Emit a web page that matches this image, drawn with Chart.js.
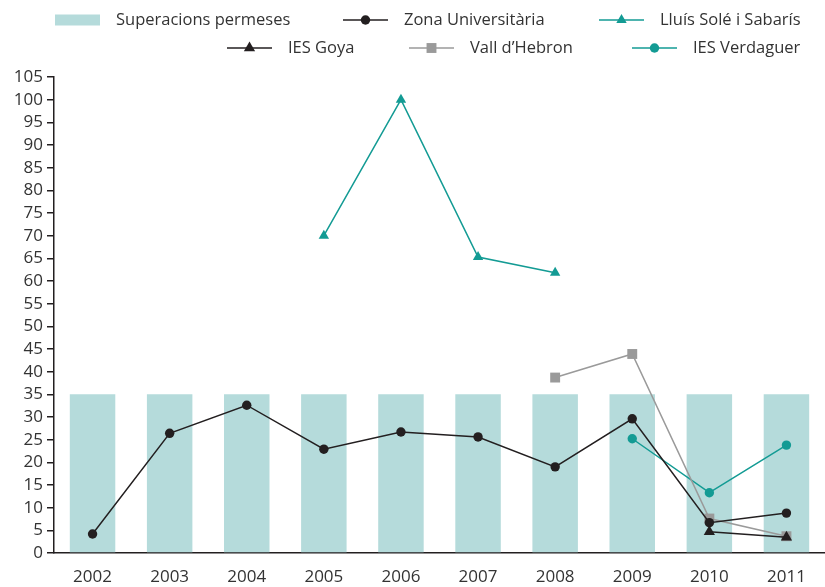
<!DOCTYPE html>
<html>
<head>
<meta charset="utf-8">
<script src="https://cdn.jsdelivr.net/npm/chart.js@4.4.0/dist/chart.umd.min.js"></script>
<style>
  html, body { margin: 0; padding: 0; background: #fff; overflow: hidden; }
  #wrap { width: 825px; height: 587px; overflow: hidden; }
</style>
</head>
<body>
<div id="wrap"><canvas id="myChart" width="832" height="587"></canvas></div>
<script>
var years = ["2002", "2003", "2004", "2005", "2006", "2007", "2008", "2009", "2010", "2011"];
var superacionsPermeses = [35, 35, 35, 35, 35, 35, 35, 35, 35, 35];
var zonaUniversitaria = [4.2, 26.4, 32.6, 22.9, 26.7, 25.6, 19.0, 29.6, 6.7, 8.8];
var lluisSole = [null, null, null, 70, 100, 65.3, 61.8, null, null, null];
var iesGoya = [null, null, null, null, null, null, null, null, 4.7, 3.5];
var vallHebron = [null, null, null, null, null, null, 38.7, 43.9, 7.6, 3.7];
var iesVerdaguer = [null, null, null, null, null, null, null, 25.2, 13.3, 23.8];
var yMin = 0, yMax = 105, yStep = 5;

var FONT = "'Open Sans', 'Noto Sans', sans-serif";
var TEXT = "#333333";
var TEAL = "#139b94";
var BLACK = "#231f20";
var GREY = "#9a9a9a";
var BAR = "#b5dbdb";

// where each legend entry sits (symbol left edge, row centre)
var legendSlots = [
  { x: 55, y: 20 }, { x: 343, y: 20 }, { x: 599, y: 20 },
  { x: 227, y: 48 }, { x: 409, y: 48 }, { x: 632, y: 48 }
];

function marker(ctx, style, r, x, y) {
  ctx.beginPath();
  if (style === "circle") {
    ctx.arc(x, y, r, 0, Math.PI * 2);
  } else if (style === "triangle") {
    ctx.moveTo(x, y - r);
    ctx.lineTo(x + r * Math.sin(2 * Math.PI / 3), y - r * Math.cos(2 * Math.PI / 3));
    ctx.lineTo(x + r * Math.sin(4 * Math.PI / 3), y - r * Math.cos(4 * Math.PI / 3));
  } else if (style === "rect") {
    var s = r * Math.SQRT1_2;
    ctx.rect(x - s, y - s, 2 * s, 2 * s);
  }
  ctx.closePath();
  ctx.fill();
}

var legendPlugin = {
  id: "placedLegend",
  afterDraw: function(chart) {
    var ctx = chart.ctx;
    ctx.save();
    ctx.font = "16.5px " + FONT;
    ctx.textBaseline = "middle";
    chart.data.datasets.forEach(function(ds, i) {
      var slot = legendSlots[i];
      if (ds.type === "bar") {
        ctx.fillStyle = ds.backgroundColor;
        ctx.fillRect(slot.x, slot.y - 5.5, 45, 11);
      } else {
        ctx.strokeStyle = ds.borderColor;
        ctx.lineWidth = ds.borderWidth;
        ctx.beginPath();
        ctx.moveTo(slot.x, slot.y);
        ctx.lineTo(slot.x + 45, slot.y);
        ctx.stroke();
        ctx.fillStyle = ds.pointBackgroundColor;
        marker(ctx, ds.pointStyle, ds.pointRadius, slot.x + 22.5, slot.y);
      }
      ctx.fillStyle = TEXT;
      ctx.textAlign = "left";
      ctx.fillText(ds.label, slot.x + 61, slot.y);
    });
    ctx.restore();
  }
};

function lineSet(label, data, color, style, radius) {
  return {
    type: "line",
    label: label,
    data: data,
    borderColor: color,
    borderWidth: 1.5,
    pointStyle: style,
    pointRadius: radius,
    pointHoverRadius: radius,
    pointBackgroundColor: color,
    pointBorderWidth: 0,
    spanGaps: false,
    tension: 0,
    order: 0
  };
}

var ctx = document.getElementById("myChart").getContext("2d");
var myChart = new Chart(ctx, {
  data: {
    labels: years,
    datasets: [
      {
        type: "bar",
        label: "Superacions permeses",
        data: superacionsPermeses,
        backgroundColor: BAR,
        borderWidth: 0,
        barPercentage: 1,
        categoryPercentage: 0.59,
        order: 1
      },
      lineSet("Zona Universitària", zonaUniversitaria, BLACK, "circle", 4.7),
      lineSet("Lluís Solé i Sabarís", lluisSole, TEAL, "triangle", 6),
      lineSet("IES Goya", iesGoya, BLACK, "triangle", 6.5),
      lineSet("Vall d\u2019Hebron", vallHebron, GREY, "rect", 7),
      lineSet("IES Verdaguer", iesVerdaguer, TEAL, "circle", 4.7)
    ]
  },
  options: {
    responsive: false,
    animation: false,
    layout: { padding: { top: 77, left: 0, right: 0, bottom: 0 } },
    plugins: {
      legend: { display: false },
      tooltip: { enabled: false }
    },
    scales: {
      x: {
        offset: true,
        grid: { display: true, drawOnChartArea: false, drawTicks: false },
        border: { display: true, color: BLACK, width: 1.5 },
        ticks: { color: TEXT, font: { family: FONT, size: 17 }, padding: 14 },
        afterFit: function(scale) { scale.height = 34; }
      },
      y: {
        min: yMin,
        max: yMax,
        grid: { drawOnChartArea: false, drawTicks: true, tickLength: 7, color: BLACK, lineWidth: 1.5 },
        border: { display: true, color: BLACK, width: 1.5 },
        ticks: { stepSize: yStep, autoSkip: false, color: TEXT, font: { family: FONT, size: 17 }, padding: 4 },
        afterFit: function(scale) { scale.width = 54; }
      }
    }
  },
  plugins: [legendPlugin]
});
</script>
</body>
</html>
